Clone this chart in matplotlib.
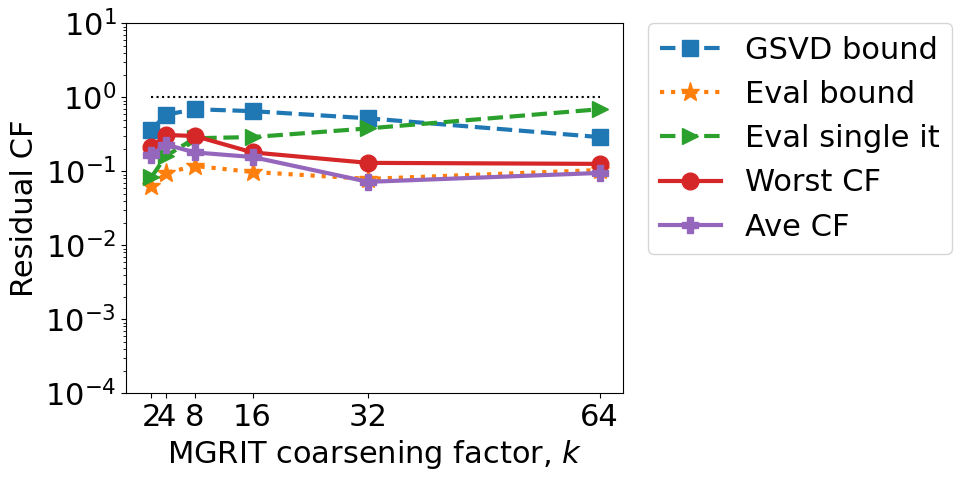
import matplotlib
matplotlib.use("Agg")
import matplotlib.pyplot as plt

k = [2, 4, 8, 16, 32, 64]
gsvd_bound = [0.36, 0.58, 0.69, 0.65, 0.52, 0.29]
eval_bound = [0.063, 0.095, 0.118, 0.098, 0.079, 0.104]
eval_single = [0.083, 0.16, 0.28, 0.29, 0.38, 0.69]
worst_cf = [0.21, 0.31, 0.30, 0.18, 0.13, 0.126]
ave_cf = [0.166, 0.23, 0.18, 0.156, 0.072, 0.095]
ref_line = [1.0, 1.0]
ref_k = [2, 64]
xticks = [2, 4, 8, 16, 32, 64]

plt.rcParams['font.size'] = 22
fig = plt.figure(figsize=(9.61, 4.8), dpi=100)
ax = fig.add_axes([126/961, 1-393.3/480, (622.7-126)/961, (393.3-23.3)/480])

ax.plot(ref_k, ref_line, ':', color='black', lw=1.5)
ax.plot(k, gsvd_bound, '--', marker='s', color='#1f77b4', lw=3, ms=12, label='GSVD bound')
ax.plot(k, eval_bound, ':', marker='*', color='#ff7f0e', lw=3, ms=14, label='Eval bound')
ax.plot(k, eval_single, '--', marker='>', color='#2ca02c', lw=3, ms=12, label='Eval single it')
ax.plot(k, worst_cf, '-', marker='o', color='#d62728', lw=3, ms=12, label='Worst CF')
ax.plot(k, ave_cf, '-', marker='P', color='#9467bd', lw=3, ms=12, label='Ave CF')

ax.set_yscale('log')
ax.set_ylim(1e-4, 1e1)
ax.set_xlim(-1.5, 67.2)
ax.set_xticks(xticks)
ax.set_xticklabels([str(v) for v in xticks])
ax.set_xlabel('MGRIT coarsening factor, $k$')
ax.set_ylabel('Residual CF')
ax.legend(loc='upper left', bbox_to_anchor=(1.05, 1.0), borderaxespad=0)
fig.savefig('out.png', dpi=100)
